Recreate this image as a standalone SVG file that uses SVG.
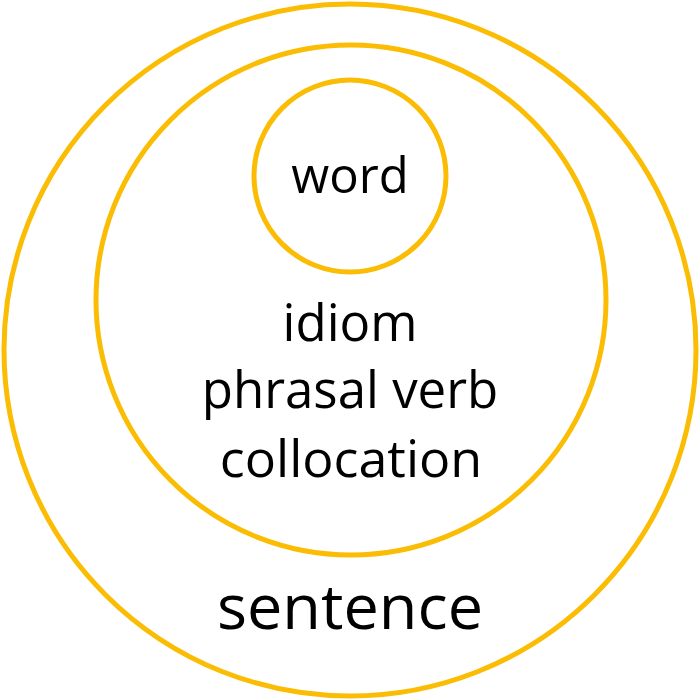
<svg xmlns="http://www.w3.org/2000/svg" width="700" height="700" viewBox="0 0 700 700">
<style>
.ring{fill:none;stroke:#FBBC04;stroke-width:5}
.t{font-family:"Open Sans","Noto Sans",sans-serif;fill:#000;text-anchor:middle}
</style>
<rect width="700" height="700" fill="#fff"/>
<g id="sentence">
<circle class="ring" cx="350" cy="350" r="346"/>
<text class="t" x="350" y="629" font-size="63">sentence</text>
</g>
<g id="phrases">
<circle class="ring" cx="351" cy="300" r="255"/>
<text class="t" x="350" y="341" font-size="51">idiom</text>
<text class="t" x="350" y="408" font-size="51">phrasal verb</text>
<text class="t" x="351" y="477" font-size="52">collocation</text>
</g>
<g id="word">
<circle class="ring" cx="350" cy="176" r="96"/>
<text class="t" x="350" y="193" font-size="49">word</text>
</g>
<g id="connectors"/>
</svg>
